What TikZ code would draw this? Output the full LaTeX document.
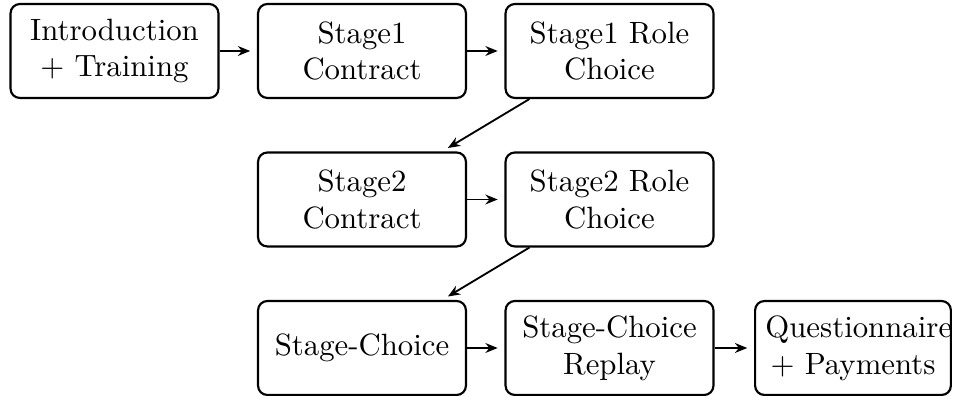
\documentclass[tikz,border=0pt]{standalone}
\usetikzlibrary{arrows.meta}
\begin{document}
\begin{tikzpicture}[x=0.3247pt,y=-0.3247pt,
  stagebox/.style={draw,line width=0.7pt,rounded corners=3pt,align=center,
    minimum width=67.5pt,minimum height=30.5pt,inner sep=3.33pt},
  lastbox/.style={draw,line width=0.7pt,rounded corners=3pt,align=center,
    text width=2cm,minimum height=30.5pt,inner sep=3.33pt},
  flow/.style={-{Stealth[length=4pt,width=3.2pt]},line width=0.6pt,shorten >=2.2pt}]
\useasboundingbox (0,0) rectangle (954,396);
\node[stagebox] (A) at (114.5,51) {Introduction\\+ Training};
\node[stagebox] (B) at (362,51) {Stage1\\Contract};
\node[stagebox] (C) at (609.5,51) {Stage1 Role\\Choice};
\node[stagebox] (D) at (362,199.5) {Stage2\\Contract};
\node[stagebox] (E) at (609.5,199.5) {Stage2 Role\\Choice};
\node[stagebox] (F) at (362,348) {Stage-Choice};
\node[stagebox] (G) at (609.5,348) {Stage-Choice\\Replay};
\node[lastbox] (H) at (853,348) {Questionnaire\\+ Payments};
\draw[flow] (A) -- (B);
\draw[flow] (B) -- (C);
\draw[flow] (C) -- (D);
\draw[flow] (D) -- (E);
\draw[flow] (E) -- (F);
\draw[flow] (F) -- (G);
\draw[flow] (G) -- (H);
\end{tikzpicture}
\end{document}
